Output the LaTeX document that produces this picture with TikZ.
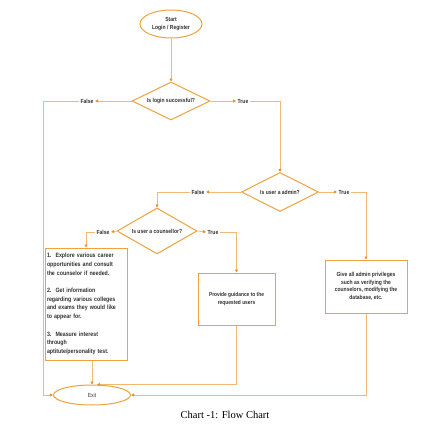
\documentclass[tikz,border=0pt]{standalone}
\usepackage{fontspec}
\setmainfont{Liberation Serif}
\newfontfamily\nodefont[FakeStretch=0.85]{Liberation Sans}
\usetikzlibrary{shapes.geometric,arrows.meta,calc}
\definecolor{shapeor}{RGB}{238,162,64}
\definecolor{lineor}{RGB}{241,186,115}
\definecolor{tipor}{RGB}{238,140,40}
\definecolor{txt}{RGB}{50,50,50}
\begin{document}
\begin{tikzpicture}[x=1pt,y=-1pt,
  shapebox/.style={draw=shapeor, line width=1pt, fill=white, text=txt,
    font=\nodefont\bfseries\fontsize{5.9}{7.2}\selectfont, align=center, inner sep=0pt},
  dtext/.style={text=txt, font=\nodefont\bfseries\fontsize{5.9}{7}\selectfont, inner sep=0pt},
  lbl/.style={text=txt, font=\nodefont\bfseries\fontsize{5.9}{7}\selectfont, inner sep=1.5pt},
  conn/.style={draw=lineor, line width=0.8pt},
  arr/.style={conn, -{Triangle[length=3pt,width=3pt,color=tipor]}}
]
\useasboundingbox (0,0) rectangle (426,429);
\fill[white] (0,0) rectangle (426,429);

% nodes
\node[shapebox, ellipse, minimum width=62pt, minimum height=28pt] (start) at (171,24) {Start\\Login / Register};
\node[shapebox, diamond, minimum width=78pt, minimum height=38pt,
  label={[dtext]center:Is login successful?}] (d1) at (171,101) {};
\node[shapebox, diamond, minimum width=77pt, minimum height=39pt,
  label={[dtext]center:Is user a admin?}] (d2) at (280,192) {};
\node[shapebox, diamond, minimum width=80pt, minimum height=46pt,
  label={[dtext]center:Is user a counsellor?}] (d3) at (157,231) {};
\node[shapebox, minimum width=82pt, minimum height=112pt, text width=78pt, align=left,
  font=\nodefont\bfseries\fontsize{6.2}{8.7}\selectfont] (box1) at (86,304)
  {1.\ \ Explore various career\\opportunities and consult\\the counselor if needed.\\[8.7pt]
   2.\ \ Get information\\regarding various colleges\\and exams they would like\\to appear for.\\[8.7pt]
   3.\ \ Measure interest\\through\\aptitute/personality test.};
\node[shapebox, minimum width=77pt, minimum height=52pt,
  font=\nodefont\bfseries\fontsize{5.7}{7.8}\selectfont] (guide) at (236.5,299)
  {Provide guidance to the\\requested users};
\node[shapebox, minimum width=82pt, minimum height=53pt,
  font=\nodefont\bfseries\fontsize{5.9}{7.6}\selectfont] (priv) at (366,286.5)
  {Give all admin privileges\\such as verifying the\\counselors, modifying the\\database, etc.};
\node[shapebox, ellipse, minimum width=77pt, minimum height=20pt,
  font=\nodefont\fontsize{5.9}{7}\selectfont] (exit) at (92,395) {Exit};

% labels
\node[lbl] (f1) at (87,101) {False};
\node[lbl] (t1) at (243,101) {True};
\node[lbl] (f2) at (198,192) {False};
\node[lbl] (t2) at (344,192) {True};
\node[lbl] (f3) at (103,232) {False};
\node[lbl] (t3) at (213,232) {True};

\coordinate (lc) at (43,101);
\coordinate (lb) at (43,395);

% connectors
\draw[arr] (start) -- (d1);
\draw[arr] (d1.west) -- (f1.east);
\draw[arr] (f1.west) -- (lc) -- (lb) -- (exit.west);
\draw[arr] (d1.east) -- (t1.west);
\draw[arr] (t1.east) -| (d2.north);
\draw[arr] (d2.west) -- (f2.east);
\draw[arr] (f2.west) -| (d3.north);
\draw[arr] (d2.east) -- (t2.west);
\draw[arr] (t2.east) -| (priv.north);
\draw[arr] (d3.west) -- (f3.east);
\draw[arr] (f3.west) -| (box1.north);
\draw[arr] (d3.east) -- (t3.west);
\draw[arr] (t3.east) -| (guide.north);
\draw[arr] (box1.south -| exit.north) -- (exit.north);
\draw[arr] (guide.south) |- ($(exit.north)+(5,0)$);
\draw[arr] (priv.south) |- (exit.east);

% caption
\node[font=\fontsize{10.5}{12}\selectfont, inner sep=0pt] (cap) at (225,415) {Chart -1: Flow Chart};
\end{tikzpicture}
\end{document}
